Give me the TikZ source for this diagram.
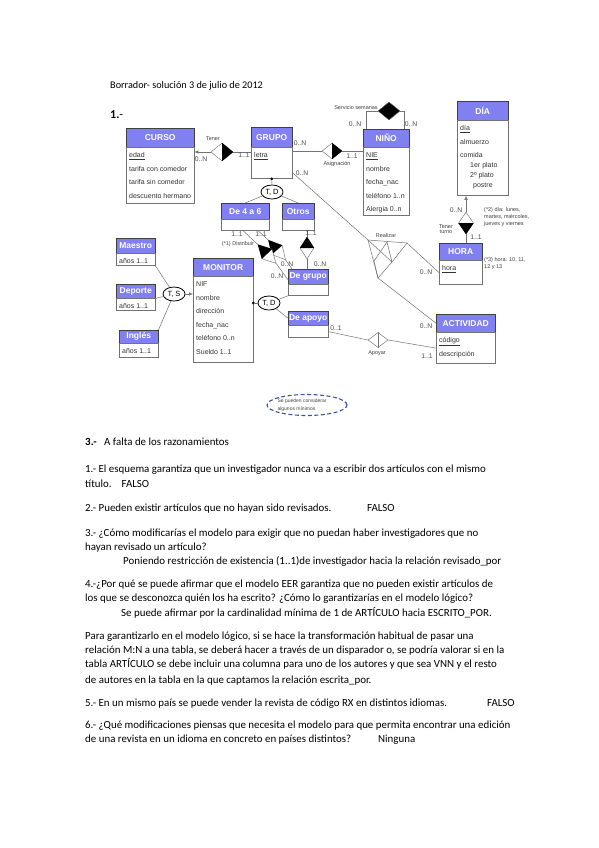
\documentclass[tikz,border=0pt]{standalone}
\usepackage{fontspec}
\setmainfont{Carlito}
\newfontfamily\diafont{Liberation Sans}
\usetikzlibrary{shapes.geometric,arrows.meta}
\definecolor{cabecera}{RGB}{128,128,240}
\definecolor{elipse}{RGB}{55,85,160}

\tikzset{
  cab/.style={draw=black!75, fill=cabecera, text=white, font=\diafont\bfseries\fontsize{8.5}{9}\selectfont, inner sep=0pt, anchor=north west},
  cuerpo/.style={draw=black!55, inner sep=0pt, anchor=north west},
  atrib/.style={anchor=north west, align=left, inner sep=0pt, font=\diafont\fontsize{7}{13.6}\selectfont, text=black!80},
  card/.style={font=\diafont\fontsize{6.8}{7}\selectfont, text=black!70, inner sep=0pt},
  etiq/.style={font=\diafont\fontsize{5.5}{6}\selectfont, text=black!75, inner sep=0pt},
  rel/.style={diamond, draw=black!60, fill=white, inner sep=0pt},
  jer/.style={ellipse, draw=black, thick, fill=white, inner sep=0pt, minimum width=22, minimum height=14, font=\diafont\fontsize{7.5}{8}\selectfont},
  linea/.style={draw=black!55, line width=0.5pt},
  flecha/.style={linea, -{Latex[length=4pt,width=3.5pt]}},
  punto/.style={circle, fill=black, inner sep=0pt, minimum size=3pt},
  texto/.style={anchor=base west, inner sep=0pt, font=\fontsize{10.9}{12}\selectfont},
}

% nombre, x, y, ancho, alto cabecera, alto cuerpo, titulo, atributos
\newcommand{\entidad}[8]{%
  \node[cab, minimum width=#4, minimum height=#5] (#1) at (#2,#3) {#7};
  \node[cuerpo, minimum width=#4, minimum height=#6] (#1-b) at (#1.south west) {};
  \node[atrib] (#1-t) at ([xshift=3pt,yshift=-5pt]#1-b.north west) {#8};
}

\begin{document}
\begin{tikzpicture}[x=1pt,y=-1pt]
\useasboundingbox[fill=white] (0,0) rectangle (599,848);

\node[anchor=base west, inner sep=0pt, font=\fontsize{10.2}{11}\selectfont] (titulo) at (110,89) {Borrador- solución 3 de julio de 2012};
\node[anchor=base west, inner sep=0pt, font=\fontsize{12}{12}\selectfont] (uno) at (110,118) {\textbf{1.}-};

% entidades
\entidad{curso}{126}{128}{68}{19}{56}{CURSO}{\underline{edad}\\tarifa con comedor\\tarifa sin comedor\\descuento hermano}
\entidad{grupo}{251}{127}{41}{20}{31}{GRUPO}{\underline{letra}}
\entidad{nino}{363}{129}{46}{18}{68}{NIÑO}{\underline{NIE}\\nombre\\fecha\_nac\\teléfono 1..n\\Alergia 0..n}
\entidad{dia}{457}{101}{51}{19}{75}{DÍA}{\underline{día}\\almuerzo\\comida\\[-3.6pt]\hspace*{10pt}1er plato\\[-3.6pt]\hspace*{10pt}2º plato\\[-3.6pt]\hspace*{13pt}postre}
\entidad{hora}{439}{243}{43}{17}{24}{HORA}{\underline{hora}}
\entidad{actividad}{436}{314}{59}{18}{31}{ACTIVIDAD}{\underline{código}\\descripción}
\entidad{monitor}{193}{258}{60}{18}{86}{MONITOR}{NIF\\nombre\\dirección\\fecha\_nac\\teléfono 0..n\\Sueldo 1..1}
\entidad{maestro}{116}{238}{39}{15}{12}{Maestro}{años 1..1}
\entidad{deporte}{116}{284}{39}{14}{12}{Deporte}{años 1..1}
\entidad{ingles}{119}{330}{39}{13}{14}{Inglés}{años 1..1}
\entidad{de4a6}{221}{203}{48}{16}{11}{De 4 a 6}{}
\entidad{otros}{282}{203}{32}{16}{11}{Otros}{}
\entidad{degrupo}{288}{269}{40}{15}{11}{De grupo}{}
\entidad{deapoyo}{288}{311}{40}{14}{12}{De apoyo}{}

% relaciones
\node[rel, minimum width=22, minimum height=18] (tener) at (222,152) {};
\fill (tener.north) -- (tener.east) -- (tener.south) -- cycle;
\draw[flecha] (tener.west) -- (tener.west -| curso-b.east);
\draw[linea] (tener.east) -- (tener.east -| grupo-b.west);

\node[rel, minimum width=20, minimum height=16] (asig) at (332,151) {};
\fill (asig.north) -- (asig.east) -- (asig.south) -- cycle;
\draw[linea] (asig.west) -- (asig.west -| grupo-b.east);
\draw[linea] (asig.east) -- (asig.east -| nino-b.west);

\node[rel, fill=black, minimum width=22, minimum height=18] (serv) at (389,111) {};
\draw[linea] ([xshift=3pt]nino.north west) |- (serv.west);
\draw[linea] (serv.east) -| ([xshift=-5pt]nino.north east);

\node[rel, minimum width=15, minimum height=22] (turno) at (466,223) {};
\fill (turno.west) -- (turno.south) -- (turno.east) -- cycle;
\draw[flecha] (turno.north) -- (turno.north |- dia-b.south);
\draw[linea] (turno.south) -- (turno.south |- hora.north);

\node[rel, minimum width=14, minimum height=22] (relotros) at (307,248) {};
\fill (relotros.west) -- (relotros.north) -- (relotros.east) -- cycle;
\draw[linea] (relotros.north) -- (relotros.north |- otros-b.south);
\draw[linea] (relotros.south) -- (relotros.south |- degrupo.north);

\node[rel, minimum width=26, minimum height=14, rotate=-49] (rela) at (277,250) {};
\fill (rela.north) -- (rela.west) -- (rela.south) -- cycle;
\draw[linea] (rela.west) -- ([xshift=13pt]de4a6-b.south);
\draw[linea] (rela.east) -- ([xshift=4pt]degrupo.north west);
\node[rel, minimum width=26, minimum height=14, rotate=-46] (relb) at (267,254) {};
\fill (relb.north) -- (relb.west) -- (relb.south) -- cycle;
\draw[linea] (relb.west) -- ([xshift=-2pt]de4a6-b.south);
\draw[linea] (relb.east) -- ([yshift=-3pt]degrupo.west);

% realizar
\coordinate (ra) at (368,240);
\coordinate (rb) at (407,243);
\coordinate (rc) at (392,262);
\coordinate (rd) at (378,278);
\coordinate (re) at (387,242);
\coordinate (rf) at (374,261);
\draw[linea] (ra) -- (rb) -- (rc) -- (rd) -- cycle;
\draw[linea] (ra) -- (rc) (re) -- (rf) (re) -- (rc) (rf) -- (rd);
\draw[linea] ([yshift=-9.5pt]grupo-b.east) -- (ra);
\draw[linea] (rb) -- (hora-b.west);
\draw[linea] (rd) -- (actividad.west);

\node[rel, minimum width=20, minimum height=15] (apoyar) at (378,340) {};
\draw[linea] (apoyar.north) -- (apoyar.south);
\draw[linea] (deapoyo-b.east) -- (apoyar.west);
\draw[linea] (apoyar.east) -- (actividad-b.west);

% jerarquias
\node[jer] (tdg) at (272,192) {T, D};
\node[punto] (pg) at (grupo-b.south) {};
\draw[linea] (pg) -- (tdg);
\draw[linea] (tdg) -- (de4a6.north);
\draw[linea] (tdg) -- (otros.north);

\node[jer] (tdm) at (269,303) {T, D};
\node[punto] (pm) at (monitor-b.east |- tdm) {};
\draw[linea] (pm) -- (tdm);
\draw[linea] (tdm) -- (degrupo-b.south west);
\draw[linea] (tdm) -- (deapoyo.west);

\node[jer] (ts) at (174,294) {T, S};
\draw[flecha] (ts) -- (ts -| monitor-b.west);
\draw[linea] (maestro-b.south east) -- (ts);
\draw[linea] (deporte.south east) -- (ts);
\draw[linea] (ingles.north east) -- (ts);

% cardinalidades
\foreach \x/\y/\t [count=\i] in {201/159/0..N, 244/155/1..1, 300/143/0..N, 302/173/0..N,
  352/156/1..1, 355/124/0..N, 411/124/0..N, 456/210/0..N, 476/237/1..1, 426/272/0..N,
  426/326/0..N, 427/356/1..1, 336/328/0..1, 311/233/1..1, 320/264/0..N, 287/264/0..N,
  277/276/0..N, 237/234/1..1, 261/234/1..1}{
  \node[card] (c\i) at (\x,\y) {\t};
}

% nombres de relaciones y notas
\node[etiq] (ltener) at (213,139) {Tener};
\node[etiq] (lasig) at (337,164) {Asignación};
\node[etiq] (lserv) at (356,108) {Servicio semanas};
\node[etiq, align=center] (lturno) at (446,229) {Tener\\[-0.5pt]turno};
\node[etiq] (lreal) at (386,236) {Realizar};
\node[etiq] (lapoyar) at (377,353) {Apoyar};
\node[etiq] (ldistr) at (238,244) {(*1) Distribuir};
\node[etiq, align=left, anchor=north west] (nota2) at (484,207) {(*2) día: lunes,\\[1pt]martes, miércoles,\\[1pt]jueves y viernes};
\node[etiq, align=left, anchor=north west] (nota3) at (484,257) {(*3) hora: 10, 11,\\[1pt]12 y 13};

\node[ellipse, draw=elipse, line width=1.1pt, dash pattern=on 4pt off 2.5pt, minimum width=80, minimum height=21] (nota) at (307,405) {};
\node[etiq, align=left, font=\diafont\fontsize{5}{8}\selectfont] (lnota) at (302,405) {Se pueden considerar\\algunos mínimos};

% texto
\node[anchor=base west, inner sep=0pt, font=\bfseries\fontsize{11}{12}\selectfont] (tres) at (85,445.5) {3.-};
\foreach \x/\y/\t [count=\i] in {
  104/445.5/{A falta de los razonamientos},
  85/472.5/{1.- El esquema garantiza que un investigador nunca va a escribir dos artículos con el mismo},
  85/487.5/{título.\hspace{10pt}FALSO},
  85/511.5/{2.- Pueden existir artículos que no hayan sido revisados.},
  367/511.5/{FALSO},
  85/536.5/{3.- ¿Cómo modificarías el modelo para exigir que no puedan haber investigadores que no},
  85/550.5/{hayan revisado un artículo?},
  123/564.5/{Poniendo restricción de existencia (1..1)de investigador hacia la relación revisado\_por},
  85/587.5/{4.-¿Por qué se puede afirmar que el modelo EER garantiza que no pueden existir artículos de},
  85/601.5/{los que se desconozca quién los ha escrito? ¿Cómo lo garantizarías en el modelo lógico?},
  121/616.5/{Se puede afirmar por la cardinalidad mínima de 1 de ARTÍCULO hacia ESCRITO\_POR.},
  85/639.5/{Para garantizarlo en el modelo lógico, si se hace la transformación habitual de pasar una},
  85/653.5/{relación M:N a una tabla, se deberá hacer a través de un disparador o, se podría valorar si en la},
  85/667.5/{tabla ARTÍCULO se debe incluir una columna para uno de los autores y que sea VNN y el resto},
  85/683/{de autores en la tabla en la que captamos la relación escrita\_por.},
  85/706.5/{5.- En un mismo país se puede vender la revista de código RX en distintos idiomas.},
  487/706.5/{FALSO},
  85/728.5/{6.- ¿Qué modificaciones piensas que necesita el modelo para que permita encontrar una edición},
  85/742.5/{de una revista en un idioma en concreto en países distintos?},
  378/742.5/{Ninguna}}{
  \node[texto] (t\i) at (\x,\y) {\t};
}
\end{tikzpicture}
\end{document}
